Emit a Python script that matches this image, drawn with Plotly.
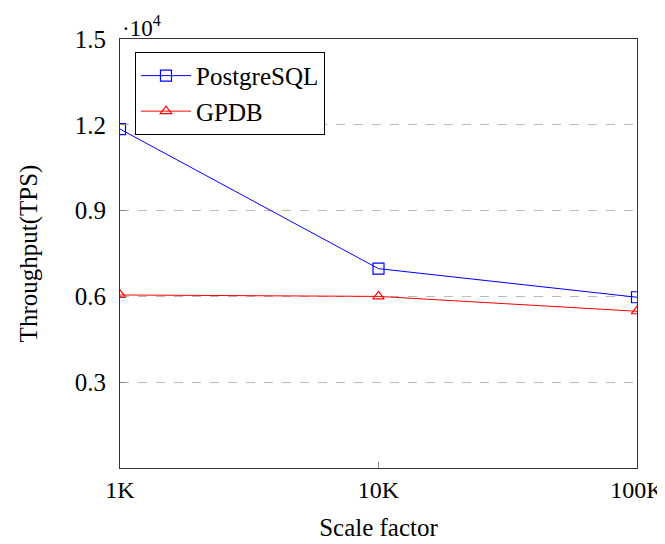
import plotly.graph_objects as go

scale_factors = [1000, 10000, 100000]
x_labels = ["1K", "10K", "100K"]
postgresql = [11850, 6970, 5970]
gpdb = [6050, 6000, 5480]
y_ticks = [3000, 6000, 9000, 12000, 15000]
y_tick_labels = ["0.3", "0.6", "0.9", "1.2", "1.5"]

FONT = "'Liberation Serif', 'DejaVu Serif', serif"
F = dict(family=FONT, size=25, color="black")
FX = dict(family=FONT, size=24, color="black")

fig = go.Figure()
fig.add_trace(go.Scatter(
    x=scale_factors, y=postgresql, name="PostgreSQL", mode="lines+markers",
    line=dict(color="#0000ff", width=1),
    marker=dict(symbol="square-open", size=11, color="#0000ff", line=dict(width=1.2)),
))
fig.add_trace(go.Scatter(
    x=scale_factors, y=gpdb, name="GPDB", mode="lines+markers",
    line=dict(color="#ff0000", width=1),
    marker=dict(symbol="triangle-up-open", size=10, color="#ff0000", line=dict(width=1.2)),
))

# page body has an 8px margin: figure starts at (8,8)
fig.update_layout(
    width=665, height=536,
    margin=dict(l=112, r=36, t=31, b=76, autoexpand=False),
    paper_bgcolor="white", plot_bgcolor="white",
    font=F,
    showlegend=True,
    legend=dict(
        x=0.029, y=0.97, xanchor="left", yanchor="top",
        bordercolor="black", borderwidth=1, bgcolor="white",
        font=F, tracegroupgap=0, itemwidth=50,
    ),
    xaxis=dict(
        type="log", range=[3, 5], automargin=False,
        tickvals=scale_factors, ticktext=x_labels, tickfont=FX,
        ticks="inside", ticklen=6, tickcolor="#888888",
        showline=True, linecolor="#333333", linewidth=1, mirror=True,
        showgrid=False, zeroline=False,
        title=dict(text="Scale factor", standoff=16, font=F),
    ),
    yaxis=dict(
        range=[0, 15000], automargin=False,
        tickvals=y_ticks, ticktext=y_tick_labels, tickfont=F,
        ticks="inside", ticklen=6, tickcolor="#888888", ticklabelstandoff=8,
        showline=True, linecolor="#333333", linewidth=1, mirror=True,
        showgrid=True, gridcolor="#bbbbbb", griddash="dash", gridwidth=1,
        zeroline=False,
        title=dict(text="Throughput(TPS)", standoff=30, font=F),
    ),
    annotations=[dict(
        text="·10<sup>4</sup>", xref="paper", yref="paper", x=0, y=1,
        xanchor="left", yanchor="bottom", showarrow=False,
        font=dict(family=FONT, size=23, color="black"), yshift=-4,
    )],
)

fig.write_html("out.html")
